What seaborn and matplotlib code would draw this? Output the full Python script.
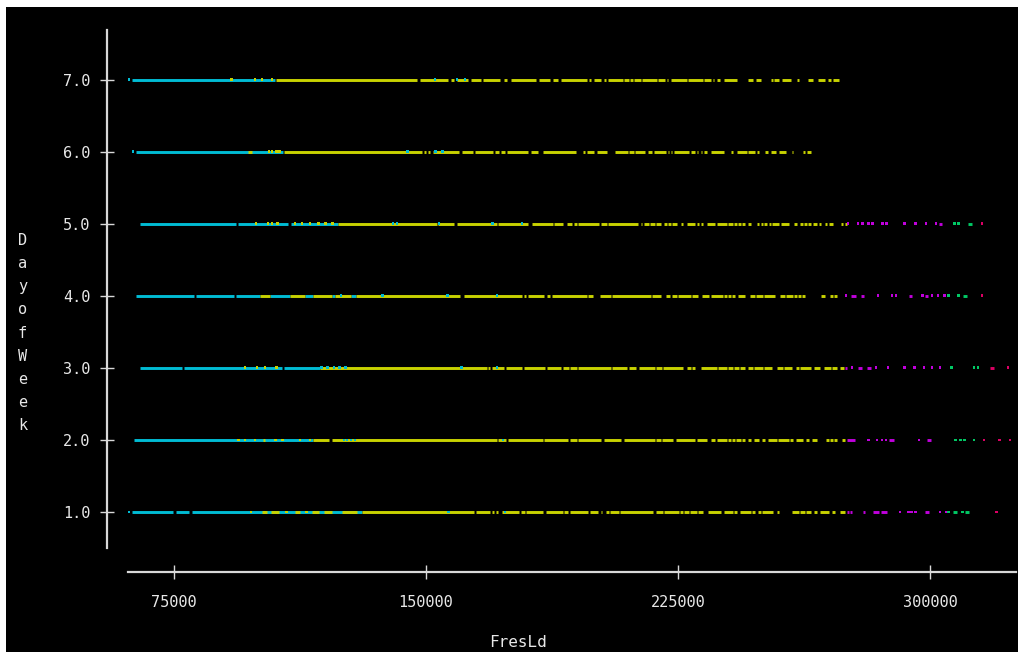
import matplotlib
matplotlib.use("Agg")
import matplotlib.pyplot as plt
from matplotlib.patches import Rectangle
import seaborn as sns
import pandas as pd

# ---------------- data (FresLd values in thousands) ----------------
day_values = [1, 2, 3, 4, 5, 6, 7]
day_tick_labels = ["1.0", "2.0", "3.0", "4.0", "5.0", "6.0", "7.0"]
fres_ticks = [75000, 150000, 225000, 300000]
fres_tick_labels = ["75000", "150000", "225000", "300000"]

palette = {"cyan": "#00bcd4", "yellow": "#c8d200", "magenta": "#c000dc",
           "green": "#00c864", "red": "#dc0064"}

# Day 7
d7_cyan_runs = [(62.5, 105.1)]
d7_cyan_dots = [61.6, 152.7, 159.2, 161.6]
d7_yellow_runs = [(105.4, 147.2), (148.2, 156.5), (157.4, 158.3), (159.2, 162.5), (163.4, 166.4),
                  (167.0, 172.0), (173.2, 174.1), (175.3, 182.7), (183.6, 186.9), (187.8, 189.3),
                  (190.2, 197.9), (198.5, 199.1), (200.0, 202.1), (203.0, 203.6), (204.2, 208.6),
                  (208.9, 210.4), (210.7, 211.6), (211.9, 214.0), (214.3, 218.8), (219.1, 221.1),
                  (221.7, 222.0), (222.9, 227.7), (228.0, 232.4), (232.7, 234.8), (235.4, 235.7),
                  (236.6, 237.5), (238.7, 242.6), (245.8, 247.3), (248.2, 249.7), (252.7, 253.3),
                  (253.6, 255.1), (256.0, 258.6), (260.4, 261.0), (263.7, 265.2), (266.7, 268.8),
                  (269.6, 270.5), (271.2, 272.9)]
d7_yellow_dots = [92.0, 99.1, 101.2, 104.2]

# Day 6
d6_cyan_runs = [(63.7, 107.4)]
d6_cyan_dots = [62.8, 144.4, 152.9, 155.0]
d6_yellow_runs = [(97.0, 98.2), (107.7, 148.8), (149.4, 150.0), (150.6, 151.2), (152.0, 159.7),
                  (160.6, 163.9), (164.5, 169.9), (170.4, 171.6), (172.3, 173.5), (174.1, 180.4),
                  (181.3, 183.3), (184.8, 194.7), (196.6, 197.2), (197.9, 200.0), (200.9, 203.9),
                  (206.2, 210.0), (210.3, 211.8), (212.1, 215.1), (216.0, 217.2), (217.8, 221.3),
                  (221.9, 222.2), (222.8, 223.1), (223.7, 228.2), (228.8, 230.0), (230.7, 231.0),
                  (231.8, 232.1), (232.7, 233.6), (234.8, 238.7), (240.9, 241.5), (242.7, 245.4),
                  (245.7, 247.8), (248.4, 249.0), (250.9, 251.8), (252.6, 254.1), (255.0, 257.1),
                  (258.8, 259.1), (262.2, 262.8), (263.4, 264.6)]
d6_yellow_dots = [103.3, 104.2, 105.4, 106.3]

# Day 5
d5_cyan_runs = [(64.9, 93.4), (94.0, 108.9), (109.8, 123.9)]
d5_cyan_dots = [140.2, 141.4, 153.9, 169.9, 178.6]
d5_yellow_runs = [(123.9, 153.3), (153.6, 158.3), (159.2, 171.1), (171.4, 180.4), (181.6, 187.8),
                  (188.1, 190.8), (192.0, 193.5), (194.1, 195.0), (195.3, 201.5), (202.1, 203.9),
                  (204.2, 213.1), (214.0, 214.3), (214.9, 216.4), (216.7, 218.2), (218.5, 220.0),
                  (220.9, 221.7), (222.0, 222.9), (223.2, 224.7), (225.9, 226.5), (227.7, 230.0),
                  (230.7, 231.3), (231.8, 232.4), (233.6, 236.0), (236.6, 239.6), (239.9, 241.4),
                  (241.7, 242.6), (242.9, 243.8), (244.1, 245.0), (245.8, 246.7), (248.5, 249.1),
                  (249.7, 250.3), (250.6, 251.5), (252.1, 252.7), (253.0, 255.1), (255.7, 258.0),
                  (259.5, 260.4), (261.3, 262.2), (262.5, 263.4), (263.7, 264.6), (265.2, 266.4),
                  (267.0, 267.6), (268.8, 269.3), (269.9, 271.1), (273.5, 274.1), (274.7, 275.3)]
d5_yellow_dots = [99.4, 103.0, 104.2, 105.8, 111.0, 113.1, 115.5, 117.9, 120.0, 122.1]
d5_magenta_runs = [(302.7, 303.6)]
d5_magenta_dots = [275.6, 278.6, 279.8, 281.6, 282.8, 285.8, 287.0, 292.3, 295.8, 298.8, 301.8]
d5_green_runs = [(311.3, 312.5)]
d5_green_dots = [307.2, 308.4]
d5_red_dots = [315.5]

# Day 4
d4_cyan_runs = [(63.7, 81.0), (81.5, 92.9), (93.5, 100.6), (103.5, 109.5), (114.0, 116.4),
                (122.1, 123.0), (127.7, 129.2)]
d4_cyan_dots = [124.7, 137.0, 156.3, 171.1]
d4_yellow_runs = [(100.6, 103.5), (109.5, 114.0), (116.4, 122.1), (123.0, 127.7), (129.2, 160.1),
                  (161.3, 178.6), (179.2, 179.8), (180.4, 185.1), (186.0, 186.9), (187.5, 197.9),
                  (198.2, 199.7), (201.8, 205.1), (205.4, 217.0), (217.3, 219.9), (221.4, 222.6),
                  (223.2, 224.7), (225.0, 228.9), (229.2, 231.0), (232.1, 234.2), (234.8, 238.4),
                  (238.7, 239.6), (239.9, 240.8), (241.1, 242.0), (242.9, 245.0), (246.5, 247.9),
                  (248.2, 250.3), (250.6, 253.9), (255.4, 256.9), (257.2, 259.2), (259.5, 260.4),
                  (260.7, 261.6), (261.9, 262.8), (267.6, 268.8), (270.3, 271.1), (271.4, 272.3)]
d4_magenta_runs = [(276.5, 278.0), (279.5, 280.4), (293.7, 294.7), (298.6, 299.5)]
d4_magenta_dots = [275.0, 284.5, 288.7, 289.9, 297.7, 300.6, 302.4, 304.2]
d4_green_runs = [(309.9, 311.0)]
d4_green_dots = [305.4, 308.4]
d4_red_dots = [315.5]

# Day 3
d3_cyan_runs = [(64.9, 77.4), (78.0, 107.1), (107.7, 118.5)]
d3_cyan_dots = [119.0, 120.8, 122.6, 124.3, 126.1, 160.6, 171.1]
d3_yellow_runs = [(118.5, 168.2), (168.5, 169.1), (169.7, 173.3), (173.8, 178.6), (179.2, 185.4),
                  (186.0, 190.2), (190.8, 192.6), (192.9, 195.0), (195.3, 205.1), (205.4, 209.9),
                  (210.3, 212.4), (213.3, 218.3), (218.6, 220.1), (220.4, 226.6), (227.8, 229.0),
                  (229.2, 230.1), (231.8, 236.6), (236.9, 239.6), (239.9, 241.4), (241.7, 243.2),
                  (243.5, 245.0), (245.9, 247.4), (247.7, 250.3), (250.6, 253.0), (254.5, 256.3),
                  (256.6, 258.8), (260.1, 261.0), (261.3, 264.6), (265.5, 267.2), (268.5, 270.5),
                  (270.8, 272.3), (273.2, 274.4)]
d3_yellow_dots = [96.1, 99.7, 102.1, 105.4]
d3_magenta_runs = [(274.7, 275.3), (278.6, 279.8), (281.2, 282.4)]
d3_magenta_dots = [276.8, 283.9, 287.5, 292.3, 295.3, 298.2, 300.6, 303.0]
d3_green_dots = [306.5, 313.1, 314.3]
d3_red_runs = [(317.9, 319.1)]
d3_red_dots = [323.2]

# Day 2
d2_cyan_runs = [(63.1, 116.4)]
d2_cyan_dots = [125.6, 126.5, 127.7, 128.9, 172.9]
d2_yellow_runs = [(101.4, 102.2), (116.4, 121.2), (122.1, 171.1), (171.4, 173.8), (174.4, 184.8),
                  (185.1, 192.3), (192.9, 195.0), (195.3, 202.1), (203.0, 208.1), (208.9, 218.2),
                  (218.5, 220.0), (220.3, 223.5), (224.4, 230.1), (230.7, 233.6), (234.8, 236.0),
                  (236.6, 239.6), (239.9, 240.8), (241.1, 242.0), (242.3, 243.8), (244.1, 245.0),
                  (245.8, 246.7), (247.6, 249.1), (250.0, 250.9), (251.8, 254.5), (254.8, 258.0),
                  (258.4, 259.2), (260.1, 262.2), (263.1, 264.0), (264.9, 266.4), (269.0, 269.9),
                  (270.2, 271.1), (271.4, 272.3), (273.8, 274.7)]
d2_yellow_dots = [94.1, 96.1, 99.1, 105.1, 107.4, 112.5, 115.5]
d2_magenta_runs = [(275.3, 277.7), (287.8, 289.3), (299.1, 300.3)]
d2_magenta_dots = [281.8, 284.2, 285.7, 286.9, 296.7]
d2_green_dots = [307.5, 309.0, 310.2, 313.1]
d2_red_dots = [316.1, 320.8, 323.8]

# Day 1
d1_cyan_runs = [(62.5, 74.7), (75.6, 79.5), (80.4, 131.0)]
d1_cyan_dots = [61.6, 156.8, 173.5]
d1_yellow_runs = [(101.2, 102.6), (104.0, 106.3), (111.0, 112.5), (116.1, 118.2), (119.7, 122.1),
                  (124.9, 129.4), (131.0, 164.3), (164.9, 169.1), (169.5, 170.2), (170.8, 171.4),
                  (172.6, 177.7), (178.3, 179.5), (179.8, 184.9), (185.8, 190.8), (191.1, 192.3),
                  (192.9, 198.2), (198.8, 201.2), (202.1, 202.4), (203.6, 204.5), (204.8, 207.4),
                  (207.7, 217.6), (218.5, 220.6), (220.9, 225.3), (225.6, 226.5), (226.8, 228.3),
                  (228.6, 230.7), (231.0, 232.4), (233.9, 237.8), (238.7, 241.4), (241.7, 242.6),
                  (243.5, 246.7), (247.0, 247.9), (248.8, 249.7), (250.0, 253.3), (254.5, 255.1),
                  (259.0, 261.0), (261.3, 262.8), (263.1, 264.6), (265.5, 266.4), (267.3, 269.9),
                  (270.8, 271.7), (273.2, 274.7)]
d1_yellow_dots = [97.9, 108.5, 114.5]
d1_magenta_runs = [(275.3, 275.8), (276.2, 276.8), (280.1, 280.7), (283.1, 284.8), (285.4, 287.2),
                   (298.5, 299.7)]
d1_magenta_dots = [291.1, 293.5, 294.6, 295.8, 303.0, 304.8]
d1_green_runs = [(306.8, 308.0), (310.5, 311.6)]
d1_green_dots = [305.4, 309.6]
d1_red_dots = [319.7]

run_sets = [
    (7, "cyan", d7_cyan_runs), (7, "yellow", d7_yellow_runs),
    (6, "cyan", d6_cyan_runs), (6, "yellow", d6_yellow_runs),
    (5, "cyan", d5_cyan_runs), (5, "yellow", d5_yellow_runs), (5, "magenta", d5_magenta_runs),
    (5, "green", d5_green_runs),
    (4, "cyan", d4_cyan_runs), (4, "yellow", d4_yellow_runs), (4, "magenta", d4_magenta_runs),
    (4, "green", d4_green_runs),
    (3, "cyan", d3_cyan_runs), (3, "yellow", d3_yellow_runs), (3, "magenta", d3_magenta_runs),
    (3, "red", d3_red_runs),
    (2, "cyan", d2_cyan_runs), (2, "yellow", d2_yellow_runs), (2, "magenta", d2_magenta_runs),
    (1, "cyan", d1_cyan_runs), (1, "yellow", d1_yellow_runs), (1, "magenta", d1_magenta_runs),
    (1, "green", d1_green_runs),
]
dot_sets = [
    (7, "cyan", d7_cyan_dots), (7, "yellow", d7_yellow_dots),
    (6, "cyan", d6_cyan_dots), (6, "yellow", d6_yellow_dots),
    (5, "cyan", d5_cyan_dots), (5, "yellow", d5_yellow_dots), (5, "magenta", d5_magenta_dots),
    (5, "green", d5_green_dots), (5, "red", d5_red_dots),
    (4, "cyan", d4_cyan_dots), (4, "magenta", d4_magenta_dots), (4, "green", d4_green_dots),
    (4, "red", d4_red_dots),
    (3, "cyan", d3_cyan_dots), (3, "yellow", d3_yellow_dots), (3, "magenta", d3_magenta_dots),
    (3, "green", d3_green_dots), (3, "red", d3_red_dots),
    (2, "cyan", d2_cyan_dots), (2, "yellow", d2_yellow_dots), (2, "magenta", d2_magenta_dots),
    (2, "green", d2_green_dots), (2, "red", d2_red_dots),
    (1, "cyan", d1_cyan_dots), (1, "yellow", d1_yellow_dots), (1, "magenta", d1_magenta_dots),
    (1, "green", d1_green_dots), (1, "red", d1_red_dots),
]

runs_df = pd.DataFrame([{"DayofWeek": d, "group": g, "start": a * 1000, "end": b * 1000}
                        for d, g, runs in run_sets for a, b in runs])
dots_df = pd.DataFrame([{"DayofWeek": d, "group": g, "FresLd": v * 1000}
                        for d, g, vals in dot_sets for v in vals])

# ---------------- styling ----------------
sns.set_theme(style="dark")
fg = "#d8d8d8"
plt.rcParams["font.family"] = ["DejaVu Sans Mono", "DejaVu Sans"]

fig = plt.figure(figsize=(10.24, 6.57), dpi=100, facecolor="white")
fig.patches.append(Rectangle((6 / 1024, 5 / 657), 1012 / 1024, 645 / 657,
                             transform=fig.transFigure, facecolor="black",
                             edgecolor="none", zorder=-10))
ax = fig.add_axes([128 / 1024, 109 / 657, 888 / 1024, 518 / 657])
ax.set_zorder(5)
ax.set_facecolor("black")

for g in ["cyan", "yellow", "magenta", "green", "red"]:
    sub = runs_df[runs_df["group"] == g]
    if len(sub):
        ax.hlines(sub["DayofWeek"], sub["start"], sub["end"], colors=palette[g],
                  linewidth=2.1, capstyle="butt", zorder=2)

sns.scatterplot(data=dots_df, x="FresLd", y="DayofWeek", hue="group", palette=palette,
                marker="s", s=4, linewidth=0, legend=False, ax=ax, zorder=3)

ax.set_xlim(61310, 325595)
ax.set_ylim(0.5, 7.69)
ax.set_xticks(fres_ticks)
ax.set_xticklabels(fres_tick_labels)
ax.set_yticks(day_values)
ax.set_yticklabels(day_tick_labels)
ax.grid(False)

for side in ["top", "right"]:
    ax.spines[side].set_visible(False)
ax.spines["left"].set_position(("outward", 15))
ax.spines["bottom"].set_position(("outward", 17))
for side in ["left", "bottom"]:
    ax.spines[side].set_color(fg)
    ax.spines[side].set_linewidth(1.6)

ax.tick_params(axis="both", direction="inout", colors=fg, labelcolor="#e8e8e8",
               labelsize=11, width=1.0, bottom=True, left=True)
ax.tick_params(axis="y", length=10, pad=7.2)
ax.tick_params(axis="x", length=10, pad=11.5)

ax.set_xlabel("FresLd", color="#e8e8e8", fontsize=11.5)
ax.xaxis.set_label_coords(0.439, -0.168)
ax.set_ylabel("\n".join("DayofWeek"), color="#e8e8e8", fontsize=11, rotation=0,
              linespacing=1.67, va="center", ha="center")
ax.yaxis.set_label_coords(-0.119, 0.415)

fig.savefig("out.png", dpi=100, facecolor=fig.get_facecolor())
